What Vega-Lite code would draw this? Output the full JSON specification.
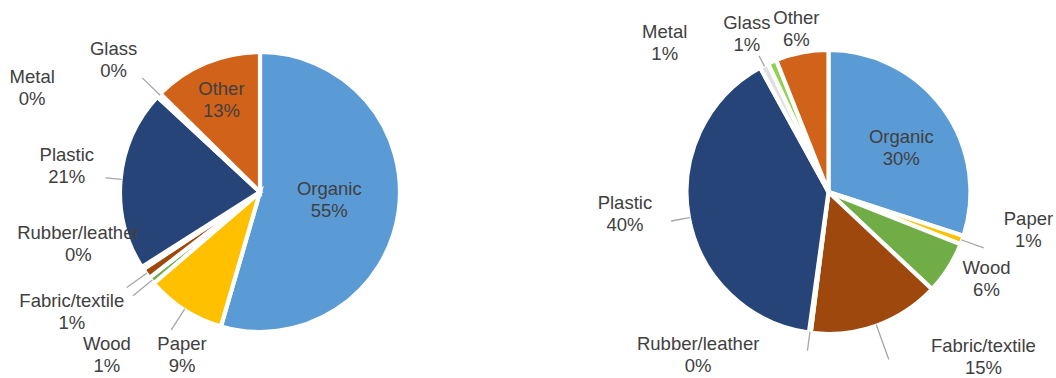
{
  "$schema": "https://vega.github.io/schema/vega-lite/v6.json",
  "padding": {"left": 0, "top": 6, "right": 0, "bottom": 0},
  "spacing": 81,
  "bounds": "flush",
  "background": "white",
  "config": {
    "view": {"stroke": null},
    "text": {"font": "Liberation Sans", "fontSize": 18.5, "fill": "#404040", "lineBreak": "\n", "lineHeight": 22, "align": "center", "baseline": "middle"}
  },
  "datasets": {
    "left": [
      {"k": 1, "m": "Organic", "v": 54.5},
      {"k": 2, "m": "Paper", "v": 9.2},
      {"k": 3, "m": "Wood", "v": 0.8},
      {"k": 4, "m": "Fabric/textile", "v": 1.2},
      {"k": 5, "m": "Rubber/leather", "v": 0.3},
      {"k": 6, "m": "Plastic", "v": 20.9},
      {"k": 7, "m": "Metal", "v": 0.2},
      {"k": 8, "m": "Glass", "v": 0.3},
      {"k": 9, "m": "Other", "v": 12.6}
    ],
    "right": [
      {"k": 1, "m": "Organic", "v": 30},
      {"k": 2, "m": "Paper", "v": 1},
      {"k": 3, "m": "Wood", "v": 6},
      {"k": 4, "m": "Fabric/textile", "v": 15},
      {"k": 5, "m": "Rubber/leather", "v": 0.2},
      {"k": 6, "m": "Plastic", "v": 39.8},
      {"k": 7, "m": "Metal", "v": 1},
      {"k": 8, "m": "Glass", "v": 1},
      {"k": 9, "m": "Other", "v": 6}
    ]
  },
  "hconcat": [
    {
      "width": 520,
      "height": 372,
      "data": {"name": "left"},
      "transform": [
        {"stack": "v", "groupby": [], "sort": [{"field": "k", "order": "ascending"}], "as": ["v0", "v1"]},
        {"calculate": "(datum.v0 + datum.v1) / 2", "as": "mid"},
        {"calculate": "datum.m + '\\n' + format(datum.v, '.0f') + '%'", "as": "lab"}
      ],
      "encoding": {"theta": {"field": "mid", "type": "quantitative", "stack": null, "scale": {"domain": [0, 100]}}},
      "layer": [
        {
          "mark": {"type": "arc", "radius": 140, "stroke": "white", "strokeWidth": 4.2},
          "encoding": {
            "theta": {"field": "v0", "type": "quantitative", "stack": null, "scale": {"domain": [0, 100]}},
            "theta2": {"field": "v1"},
            "color": {"field": "m", "type": "nominal", "legend": null,
              "scale": {"domain": ["Organic", "Paper", "Wood", "Fabric/textile", "Rubber/leather", "Plastic", "Metal", "Glass", "Other"],
                        "range": ["#5B9BD5", "#FFC000", "#70AD47", "#9E480E", "#997300", "#264478", "#E0E0E0", "#92D050", "#D0621A"]}}
          }
        },
        {"transform": [{"filter": {"field": "m", "oneOf": ["Glass", "Fabric/textile", "Wood", "Paper"]}}],
         "mark": {"type": "arc", "radius": 164, "radius2": 139, "fill": "transparent", "stroke": "#A6A6A6", "strokeWidth": 1.3},
         "encoding": {"theta2": {"field": "mid"}}},
        {"transform": [{"filter": "datum.m === 'Plastic'"}],
         "mark": {"type": "arc", "radius": 155, "radius2": 139, "fill": "transparent", "stroke": "#A6A6A6", "strokeWidth": 1.3},
         "encoding": {"theta2": {"field": "mid"}}},
        {"transform": [{"filter": "datum.m === 'Organic'"}], "mark": {"type": "text", "radius": 70, "dy": -13}, "encoding": {"text": {"field": "lab"}}},
        {"transform": [{"filter": "datum.m === 'Paper'"}], "mark": {"type": "text", "radius": 194, "dx": 27, "dy": -11}, "encoding": {"text": {"field": "lab"}}},
        {"transform": [{"filter": "datum.m === 'Wood'"}], "mark": {"type": "text", "radius": 223.5, "dx": 20, "dy": 11}, "encoding": {"text": {"field": "lab"}}},
        {"transform": [{"filter": "datum.m === 'Fabric/textile'"}], "mark": {"type": "text", "radius": 223, "dx": -7, "dy": -21}, "encoding": {"text": {"field": "lab"}}},
        {"transform": [{"filter": "datum.m === 'Rubber/leather'"}], "mark": {"type": "text", "radius": 189, "dx": -23, "dy": -62}, "encoding": {"text": {"field": "lab"}}},
        {"transform": [{"filter": "datum.m === 'Plastic'"}], "mark": {"type": "text", "radius": 195, "dx": 1, "dy": -19}, "encoding": {"text": {"field": "lab"}}},
        {"transform": [{"filter": "datum.m === 'Metal'"}], "mark": {"type": "text", "radius": 200, "dx": -82, "dy": 22}, "encoding": {"text": {"field": "lab"}}},
        {"transform": [{"filter": "datum.m === 'Glass'"}], "mark": {"type": "text", "radius": 197, "dx": -5, "dy": -6}, "encoding": {"text": {"field": "lab"}}},
        {"transform": [{"filter": "datum.m === 'Other'"}], "mark": {"type": "text", "radius": 100, "dy": -11}, "encoding": {"text": {"field": "lab"}}}
      ]
    },
    {
      "width": 455,
      "height": 372,
      "data": {"name": "right"},
      "transform": [
        {"stack": "v", "groupby": [], "sort": [{"field": "k", "order": "ascending"}], "as": ["v0", "v1"]},
        {"calculate": "(datum.v0 + datum.v1) / 2", "as": "mid"},
        {"calculate": "datum.m + '\\n' + format(datum.v, '.0f') + '%'", "as": "lab"}
      ],
      "encoding": {"theta": {"field": "mid", "type": "quantitative", "stack": null, "scale": {"domain": [0, 100]}}},
      "layer": [
        {
          "mark": {"type": "arc", "radius": 142, "stroke": "white", "strokeWidth": 4.2},
          "encoding": {
            "theta": {"field": "v0", "type": "quantitative", "stack": null, "scale": {"domain": [0, 100]}},
            "theta2": {"field": "v1"},
            "color": {"field": "m", "type": "nominal", "legend": null,
              "scale": {"domain": ["Organic", "Paper", "Wood", "Fabric/textile", "Rubber/leather", "Plastic", "Metal", "Glass", "Other"],
                        "range": ["#5B9BD5", "#FFC000", "#70AD47", "#9E480E", "#997300", "#264478", "#E0E0E0", "#92D050", "#D0621A"]}}
          }
        },
        {"transform": [{"filter": {"field": "m", "oneOf": ["Plastic", "Rubber/leather"]}}],
         "mark": {"type": "arc", "radius": 160, "radius2": 141, "fill": "transparent", "stroke": "#A6A6A6", "strokeWidth": 1.3},
         "encoding": {"theta2": {"field": "mid"}}},
        {"transform": [{"filter": "datum.m === 'Metal'"}],
         "mark": {"type": "arc", "radius": 153, "radius2": 141, "fill": "transparent", "stroke": "#A6A6A6", "strokeWidth": 1.3},
         "encoding": {"theta2": {"field": "mid"}}},
        {"transform": [{"filter": "datum.m === 'Paper'"}],
         "mark": {"type": "arc", "radius": 165, "radius2": 141, "fill": "transparent", "stroke": "#A6A6A6", "strokeWidth": 1.3},
         "encoding": {"theta2": {"field": "mid"}}},
        {"transform": [{"filter": "datum.m === 'Fabric/textile'"}],
         "mark": {"type": "arc", "radius": 178, "radius2": 141, "fill": "transparent", "stroke": "#A6A6A6", "strokeWidth": 1.3},
         "encoding": {"theta2": {"field": "mid"}}},
        {"transform": [{"filter": "datum.m === 'Organic'"}], "mark": {"type": "text", "radius": 85, "dx": 4, "dy": -5}, "encoding": {"text": {"field": "lab"}}},
        {"transform": [{"filter": "datum.m === 'Paper'"}], "mark": {"type": "text", "radius": 204, "dx": 8, "dy": -42}, "encoding": {"text": {"field": "lab"}}},
        {"transform": [{"filter": "datum.m === 'Wood'"}], "mark": {"type": "text", "radius": 180, "dx": 6, "dy": -20}, "encoding": {"text": {"field": "lab"}}},
        {"transform": [{"filter": "datum.m === 'Fabric/textile'"}], "mark": {"type": "text", "radius": 227, "dx": 78, "dy": -60}, "encoding": {"text": {"field": "lab"}}},
        {"transform": [{"filter": "datum.m === 'Rubber/leather'"}], "mark": {"type": "text", "radius": 208, "dx": -103, "dy": -54}, "encoding": {"text": {"field": "lab"}}},
        {"transform": [{"filter": "datum.m === 'Plastic'"}], "mark": {"type": "text", "radius": 205, "dx": -2, "dy": -26}, "encoding": {"text": {"field": "lab"}}},
        {"transform": [{"filter": "datum.m === 'Metal'"}], "mark": {"type": "text", "radius": 222, "dx": -63, "dy": 38}, "encoding": {"text": {"field": "lab"}}},
        {"transform": [{"filter": "datum.m === 'Glass'"}], "mark": {"type": "text", "radius": 178, "dx": -11, "dy": -6}, "encoding": {"text": {"field": "lab"}}},
        {"transform": [{"filter": "datum.m === 'Other'"}], "mark": {"type": "text", "radius": 166, "dx": -1, "dy": -11}, "encoding": {"text": {"field": "lab"}}}
      ]
    }
  ]
}
